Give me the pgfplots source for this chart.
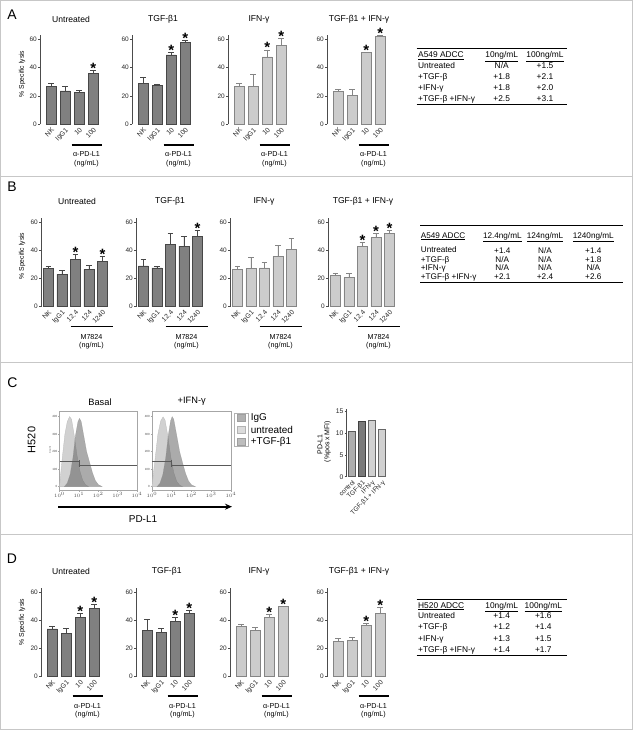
\documentclass[border=0pt]{standalone}
\usepackage{pgfplots}
\pgfplotsset{compat=1.18}
\usepackage{fontspec}
\setmainfont{Liberation Sans}
\usetikzlibrary{arrows.meta}
\newcommand\fs[1]{\fontsize{#1}{#1}\selectfont}
\definecolor{darkbar}{gray}{0.50}
\definecolor{darkedge}{gray}{0.28}
\definecolor{lightbar}{gray}{0.80}
\definecolor{lightedge}{gray}{0.52}
\definecolor{framegray}{gray}{0.78}

\pgfplotsset{
  lysbase/.style={
    anchor=south west, ymin=0, ymax=63,
    axis lines*=left,
    x axis line style={draw=none},
    y axis line style={line width=0.6bp, black!70},
    xtick style={draw=none},
    ytick={0,20,40,60},
    ytick style={line width=0.5bp, black!70},
    tick align=outside, major tick length=2bp,
    yticklabel style={font=\fs{6.5}, text=black!85, inner sep=1bp},
    xticklabel style={font=\fs{6.8}, text=black!85, rotate=45, anchor=north east, inner sep=0.5bp},
    /pgf/number format/assume math mode=true,
    clip=false,
  },
  lys4/.style={lysbase, x=14bp, y=1.4167bp, xmin=0.2, xmax=4.6, xtick={1,2,3,4}, xticklabels={NK,IgG1,10,100}},
  lys5/.style={lysbase, x=13.5bp, y=1.407bp, xmin=0.45, xmax=5.6, xtick={1,2,3,4,5}, xticklabels={NK,IgG1,12.4,124,1240}},
  darkbars/.style={ybar, bar width=10bp, fill=darkbar, draw=darkedge, line width=0.7bp,
    error bars/.cd, y dir=plus, y explicit,
    error bar style={line width=0.6bp, darkedge},
    error mark options={rotate=90, mark size=2.8bp, line width=0.6bp, darkedge}},
  lightbars/.style={ybar, bar width=10bp, fill=lightbar, draw=lightedge, line width=0.7bp,
    error bars/.cd, y dir=plus, y explicit,
    error bar style={line width=0.6bp, lightedge},
    error mark options={rotate=90, mark size=2.8bp, line width=0.6bp, lightedge}},
  stars/.style={draw=none, mark=none, nodes near coords={*},
    every node near coord/.append style={anchor=base, inner sep=0pt, font={\fs{15}\bfseries}, text=black, yshift=-3bp}},
  histax/.style={anchor=south west, scale only axis, height=79.5bp, xmin=0, xmax=4, ymin=-22, ymax=432,
    axis line style={gray!70, line width=0.4bp},
    xtick={0,1,2,3,4}, xticklabels={$10^0$,$10^1$,$10^2$,$10^3$,$10^4$},
    ytick={0,100,200,300,400}, tick pos=left,
    tick label style={font=\fs{3}, text=black!70, inner sep=0.8bp},
    major tick length=1.2bp, tick align=outside, tick style={gray!70, line width=0.3bp},
    /pgf/number format/assume math mode=true, clip=false},
  lighthist/.style={fill=gray!36, draw=gray!55, line width=0.3bp},
  darkhist/.style={fill=black!66, fill opacity=0.5, draw=gray!90, draw opacity=0.6, line width=0.3bp},
  gate/.style={black!65, line width=0.7bp, mark=none},
}

\begin{document}
\begin{tikzpicture}[x=1bp, y=1bp]
\path[use as bounding box] (0,0) rectangle (633,730);
\draw[framegray, line width=1bp] (0.5,0.5) rectangle (632.5,729.5);
\draw[framegray, line width=1bp] (0,553) -- (633,553);
\draw[framegray, line width=1bp] (0,367) -- (633,367);
\draw[framegray, line width=1bp] (0,195) -- (633,195);

% panel letters
\node[font=\fs{14}] at (12,715) {A};
\node[font=\fs{14}] at (12,543) {B};
\node[font=\fs{14}] at (12.5,347.5) {C};
\node[font=\fs{14}] at (12,171.5) {D};

% ================= PANEL A =================
\begin{axis}[lys4, at={(40bp,605.7bp)}]
\addplot[darkbars] coordinates {(1,27) +- (0,2) (2,23.5) +- (0,3) (3,22.5) +- (0,1.5) (4,36) +- (0,2)};
\addplot[stars] coordinates {(4,38)};
\end{axis}
\begin{axis}[lys4, at={(132bp,605.7bp)}]
\addplot[darkbars] coordinates {(1,29) +- (0,4.5) (2,27.5) +- (0,1) (3,49) +- (0,1.5) (4,58) +- (0,1)};
\addplot[stars] coordinates {(3,50.5) (4,59)};
\end{axis}
\begin{axis}[lys4, at={(228bp,605.7bp)}]
\addplot[lightbars] coordinates {(1,26.5) +- (0,2.5) (2,27) +- (0,8) (3,47.5) +- (0,5) (4,55.5) +- (0,5)};
\addplot[stars] coordinates {(3,52.5) (4,60.5)};
\end{axis}
\begin{axis}[lys4, at={(327bp,605.7bp)}]
\addplot[lightbars] coordinates {(1,23) +- (0,1.5) (2,20.5) +- (0,4) (3,50.5) +- (0,0.5) (4,62) +- (0,0.8)};
\addplot[stars] coordinates {(3,51) (4,62.8)};
\end{axis}
\begin{scope}[font=\fs{8.6}]
\node at (71,711) {Untreated};
\node at (163,711) {TGF-β1};
\node at (259,711) {IFN-γ};
\node at (359,711) {TGF-β1 + IFN-γ};
\end{scope}
\node[rotate=90, font=\fs{6.8}] at (22,656) {\% Specific lysis};
\foreach \X in {40,132,228,327}{
  \draw[line width=1.4bp] (\X+31.5,585) -- (\X+61.6,585);
  \node[font=\fs{7.2}] at (\X+46.5,576) {α-PD-L1};
  \node[font=\fs{7.2}] at (\X+46.5,566) {(ng/mL)};
}
% table A
\begin{scope}[every node/.style={font=\fs{8.4}, inner sep=0pt, text height=6bp, text depth=1.6bp}]
\draw[line width=0.9bp] (416.7,681.7) -- (566.7,681.7);
\node[anchor=west] at (418,674.3) {\underline{A549 ADCC}};
\node at (501.7,674.3) {\underline{10ng/mL}};
\node at (545,674.3) {\underline{100ng/mL}};
\node[anchor=west] at (418,663.5) {Untreated};
\node at (501.7,663.5) {N/A}; \node at (545,663.5) {+1.5};
\node[anchor=west] at (418,652.5) {+TGF-β};
\node at (501.7,652.5) {+1.8}; \node at (545,652.5) {+2.1};
\node[anchor=west] at (418,641.5) {+IFN-γ};
\node at (501.7,641.5) {+1.8}; \node at (545,641.5) {+2.0};
\node[anchor=west] at (418,630.7) {+TGF-β +IFN-γ};
\node at (501.7,630.7) {+2.5}; \node at (545,630.7) {+3.1};
\draw[line width=0.9bp] (416.7,625.7) -- (566.7,625.7);
\end{scope}

% ================= PANEL B =================
\begin{axis}[lys5, at={(41bp,423.3bp)}]
\addplot[darkbars] coordinates {(1,27) +- (0,2) (2,23) +- (0,3) (3,33.5) +- (0,3.5) (4,26.5) +- (0,3) (5,32) +- (0,3.5)};
\addplot[stars] coordinates {(3,37) (5,35.5)};
\end{axis}
\begin{axis}[lys5, at={(136bp,423.3bp)}]
\addplot[darkbars] coordinates {(1,29) +- (0,4.5) (2,27.5) +- (0,1) (3,44.5) +- (0,7.5) (4,43) +- (0,7) (5,50) +- (0,4)};
\addplot[stars] coordinates {(5,54)};
\end{axis}
\begin{axis}[lys5, at={(230bp,423.3bp)}]
\addplot[lightbars] coordinates {(1,26.5) +- (0,2.5) (2,27) +- (0,8) (3,27.5) +- (0,4) (4,35.5) +- (0,8) (5,41) +- (0,7.5)};
\end{axis}
\begin{axis}[lys5, at={(328bp,423.3bp)}]
\addplot[lightbars] coordinates {(1,22.5) +- (0,1.5) (2,20.5) +- (0,3.5) (3,43) +- (0,2.5) (4,49) +- (0,3) (5,52) +- (0,2)};
\addplot[stars] coordinates {(3,45.5) (4,52) (5,54)};
\end{axis}
\begin{scope}[font=\fs{8.6}]
\node at (77,529) {Untreated};
\node at (170,529) {TGF-β1};
\node at (264,529) {IFN-γ};
\node at (363,529) {TGF-β1 + IFN-γ};
\end{scope}
\node[rotate=90, font=\fs{6.8}] at (22,474) {\% Specific lysis};
\foreach \X in {41,136,230,328}{
  \draw[line width=1.4bp] (\X+29.5,403.3) -- (\X+72,403.3);
  \node[font=\fs{7.2}] at (\X+50.5,393) {M7824};
  \node[font=\fs{7.2}] at (\X+50.5,384) {(ng/mL)};
}
% table B
\begin{scope}[every node/.style={font=\fs{8.2}, inner sep=0pt, text height=6bp, text depth=1.6bp}]
\draw[line width=0.9bp] (420,505) -- (623.3,505);
\node[anchor=west] at (420.7,494) {\underline{A549 ADCC}};
\node at (502.3,494) {\underline{12.4ng/mL}};
\node at (545,494) {\underline{124ng/mL}};
\node at (593.3,494) {\underline{1240ng/mL}};
\node[anchor=west] at (420.7,480) {Untreated};
\node at (502.3,478.5) {+1.4}; \node at (545,478.5) {N/A}; \node at (593.3,478.5) {+1.4};
\node[anchor=west] at (420.7,470) {+TGF-β};
\node at (502.3,470) {N/A}; \node at (545,470) {N/A}; \node at (593.3,470) {+1.8};
\node[anchor=west] at (420.7,461.3) {+IFN-γ};
\node at (502.3,461.3) {N/A}; \node at (545,461.3) {N/A}; \node at (593.3,461.3) {N/A};
\node[anchor=west] at (420.7,452.7) {+TGF-β +IFN-γ};
\node at (502.3,452.7) {+2.1}; \node at (545,452.7) {+2.4}; \node at (593.3,452.7) {+2.6};
\draw[line width=0.9bp] (420,447.3) -- (623.3,447.3);
\end{scope}

% ================= PANEL C =================
\node[font=\fs{9.3}] at (100,328.3) {Basal};
\node[font=\fs{9.3}] at (191.7,328.3) {+IFN-γ};
\node[rotate=90, font=\fs{11}] at (31.7,290) {H520};
\node[rotate=90, font=\fs{2.5}, text=black!70] at (50,280) {Count};

\begin{axis}[histax, at={(59.5bp,239.5bp)}, width=77.5bp]
\addplot[lighthist] coordinates {(0,0) (0.05,60) (0.15,170) (0.28,300) (0.4,370) (0.52,400) (0.62,385) (0.75,300) (0.9,180) (1.05,90) (1.2,35) (1.35,10) (1.5,0)} -- cycle;
\addplot[darkhist] coordinates {(0.25,0) (0.4,20) (0.55,70) (0.7,170) (0.82,290) (0.95,370) (1.03,390) (1.12,372) (1.25,292) (1.4,200) (1.55,140) (1.7,80) (1.85,35) (2.0,12) (2.2,0)} -- cycle;
\addplot[gate] coordinates {(0,143) (1.0,143)};
\addplot[gate] coordinates {(1.0,152) (1.0,112)};
\addplot[gate] coordinates {(1.0,124) (4,124)};
\end{axis}
\begin{axis}[histax, at={(152bp,239.5bp)}, width=79bp]
\addplot[lighthist] coordinates {(0,0) (0.05,55) (0.17,170) (0.3,300) (0.44,375) (0.56,398) (0.66,380) (0.8,290) (0.95,170) (1.1,80) (1.25,30) (1.4,8) (1.55,0)} -- cycle;
\addplot[darkhist] coordinates {(0.25,0) (0.4,18) (0.55,70) (0.7,170) (0.82,290) (0.94,375) (1.02,400) (1.1,385) (1.24,300) (1.4,200) (1.55,135) (1.7,75) (1.85,32) (2.0,10) (2.2,0)} -- cycle;
\addplot[gate] coordinates {(0,143) (1.0,143)};
\addplot[gate] coordinates {(1.0,152) (1.0,112)};
\addplot[gate] coordinates {(1.0,124) (4,124)};
\end{axis}

% legend C
\draw[gray!60, line width=0.5bp] (234.3,316.7) rectangle (248.3,283.3);
\draw[gray!75, fill=gray!62, line width=0.5bp] (237.6,308.5) rectangle (245,315.5);
\draw[gray!60, fill=gray!28, line width=0.5bp] (237.6,296.5) rectangle (245,303.5);
\draw[gray!75, fill=gray!52, line width=0.5bp] (237.6,284.8) rectangle (245,291.8);
\node[anchor=west, font=\fs{10}, inner sep=0pt] at (250.7,312) {IgG};
\node[anchor=west, font=\fs{10}, inner sep=0pt] at (250.7,300) {untreated};
\node[anchor=west, font=\fs{10}, inner sep=0pt] at (250.7,288.3) {+TGF-β1};

\draw[line width=1.7bp, -{Stealth[length=7bp,width=6bp]}] (58,223.3) -- (232,223.3);
\node[font=\fs{10}] at (143,211) {PD-L1};

% C bar chart
\begin{axis}[anchor=south west, at={(346.7bp,253.3bp)}, x=10bp, y=4.333bp,
  xmin=0.47, xmax=4.5, ymin=0, ymax=15.6,
  axis lines*=left, x axis line style={draw=none}, xtick style={draw=none},
  y axis line style={line width=0.6bp, black!70},
  ytick style={line width=0.5bp, black!70},
  xtick={1,2,3,4}, xticklabels={control,TGF-β1,IFN-γ,TGF-β1 + IFN-γ},
  ytick={0,5,10,15}, tick align=outside, major tick length=2bp,
  yticklabel style={font=\fs{6.8}, text=black!85, inner sep=1bp},
  xticklabel style={font=\fs{6.5}, text=black!85, rotate=45, anchor=north east, inner sep=0.5bp},
  /pgf/number format/assume math mode=true, clip=false]
\addplot[ybar, bar width=7.5bp, fill=black!32, draw=black!65, line width=0.7bp] coordinates {(1,10.4)};
\addplot[ybar, bar width=7.5bp, fill=black!52, draw=black!75, line width=0.7bp] coordinates {(2,12.7)};
\addplot[ybar, bar width=7.5bp, fill=black!18, draw=black!60, line width=0.7bp] coordinates {(3,12.9)};
\addplot[ybar, bar width=7.5bp, fill=black!18, draw=black!60, line width=0.7bp] coordinates {(4,11.0)};
\end{axis}
\node[rotate=90, font=\fs{7}] at (320,285.5) {PD-L1};
\node[rotate=90, font=\fs{7}] at (327.5,288.5) {(\%pos x MFI)};

% ================= PANEL D =================
\begin{axis}[lys4, y=1.407bp, at={(41bp,53.3bp)}]
\addplot[darkbars] coordinates {(1,34) +- (0,2) (2,30.5) +- (0,4) (3,42) +- (0,3) (4,48.5) +- (0,3)};
\addplot[stars] coordinates {(3,45) (4,51.5)};
\end{axis}
\begin{axis}[lys4, y=1.407bp, at={(136bp,53.3bp)}]
\addplot[darkbars] coordinates {(1,33) +- (0,8) (2,31.5) +- (0,3) (3,39) +- (0,3) (4,45) +- (0,2)};
\addplot[stars] coordinates {(3,42) (4,47)};
\end{axis}
\begin{axis}[lys4, y=1.407bp, at={(230bp,53.3bp)}]
\addplot[lightbars] coordinates {(1,36) +- (0,1.5) (2,33) +- (0,2) (3,42) +- (0,2) (4,50) +- (0,0)};
\addplot[stars] coordinates {(3,44) (4,50)};
\end{axis}
\begin{axis}[lys4, y=1.407bp, at={(327bp,53.3bp)}]
\addplot[lightbars] coordinates {(1,25) +- (0,2) (2,26) +- (0,2) (3,36.5) +- (0,1.5) (4,45) +- (0,4)};
\addplot[stars] coordinates {(3,38) (4,49)};
\end{axis}
\begin{scope}[font=\fs{8.6}]
\node at (71,158.3) {Untreated};
\node at (166.7,158.3) {TGF-β1};
\node at (259,158.3) {IFN-γ};
\node at (359,158.3) {TGF-β1 + IFN-γ};
\end{scope}
\node[rotate=90, font=\fs{6.8}] at (22,108) {\% Specific lysis};
\foreach \X in {41,136,230,327}{
  \draw[line width=1.4bp] (\X+31.5,34) -- (\X+61.6,34);
  \node[font=\fs{7.2}] at (\X+46.5,24) {α-PD-L1};
  \node[font=\fs{7.2}] at (\X+46.5,15) {(ng/mL)};
}
% table D
\begin{scope}[every node/.style={font=\fs{8.4}, inner sep=0pt, text height=6bp, text depth=1.6bp}]
\draw[line width=0.9bp] (416.7,130.7) -- (566.7,130.7);
\node[anchor=west] at (418,124) {\underline{H520 ADCC}};
\node at (501.7,124) {\underline{10ng/mL}};
\node at (543.3,124) {\underline{100ng/mL}};
\node[anchor=west] at (418,113.3) {Untreated};
\node at (501.7,113.3) {+1.4}; \node at (543.3,113.3) {+1.6};
\node[anchor=west] at (418,102.3) {+TGF-β};
\node at (501.7,102.3) {+1.2}; \node at (543.3,102.3) {+1.4};
\node[anchor=west] at (418,91) {+IFN-γ};
\node at (501.7,91) {+1.3}; \node at (543.3,91) {+1.5};
\node[anchor=west] at (418,80) {+TGF-β +IFN-γ};
\node at (501.7,80) {+1.4}; \node at (543.3,80) {+1.7};
\draw[line width=0.9bp] (416.7,75) -- (566.7,75);
\end{scope}
\end{tikzpicture}
\end{document}
